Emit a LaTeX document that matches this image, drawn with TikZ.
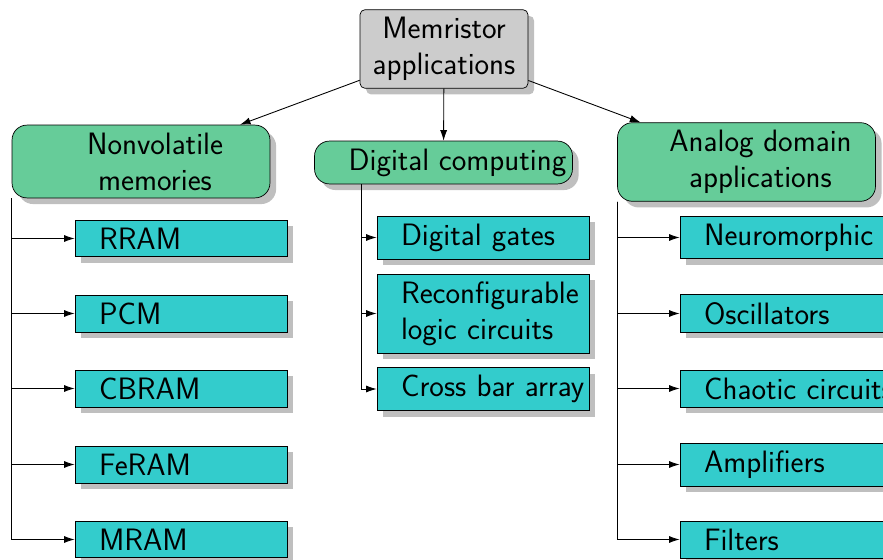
\documentclass[tikz,border=0pt]{standalone}
\usepackage{fontspec}
\usetikzlibrary{shadows,arrows.meta}
\definecolor{rootgray}{RGB}{204,204,204}
\definecolor{appgreen}{RGB}{102,204,153}
\definecolor{appcyan}{RGB}{51,204,204}
\newcommand{\lpad}{\hspace*{0.56cm}}
\begin{document}
\begin{tikzpicture}[x=0.02cm,y=-0.02cm,font=\fontsize{17.6}{20.5}\selectfont\sffamily]
    \tikzstyle{rootbox}=[draw, fill=rootgray, rounded corners=0.1cm, align=center, minimum width=3.36cm, inner ysep=4.3pt, drop shadow={shadow xshift=3.5pt,shadow yshift=-3.5pt}]
    \tikzstyle{areabox}=[draw, fill=appgreen, rounded corners=0.3cm, align=center, minimum width=5.16cm, inner xsep=0pt, inner ysep=4.3pt, drop shadow={shadow xshift=3.5pt,shadow yshift=-3.5pt}]
    \tikzstyle{itembox}=[draw, fill=appcyan, align=left, text width=3.28cm, inner xsep=0.48cm, inner ysep=4.3pt, drop shadow={shadow xshift=3.5pt,shadow yshift=-3.5pt}]
    \tikzstyle{arr}=[-{Latex[length=6pt,width=4pt]}, line width=0.5pt]
    \useasboundingbox (0,0) rectangle (883,560);
    \clip (0,0) rectangle (883,560);
    % top
    \node[rootbox] (root) at (444,49) {Memristor\\applications};
    \node[areabox] (nvm) at (141,161.5) {\lpad Nonvolatile\\\lpad memories};
    \node[areabox] (dig) at (443.5,162.5) {\lpad Digital computing};
    \node[areabox] (ana) at (746.5,162) {\lpad Analog domain\\\lpad applications};
    \draw[arr] (root) -- (nvm);
    \draw[arr] (root) -- (dig);
    \draw[arr] (root) -- (ana);
    % memories
    \node[itembox] (rram) at (181,238.5) {\mbox{RRAM}};
    \node[itembox] (pcm) at (181,313.5) {\mbox{PCM}};
    \node[itembox] (cbram) at (181,388.5) {\mbox{CBRAM}};
    \node[itembox] (feram) at (181,464.5) {\mbox{FeRAM}};
    \node[itembox] (mram) at (181,539.5) {\mbox{MRAM}};
    \foreach \k in {rram,pcm,cbram,feram,mram}
      \draw[arr] (nvm.south west) |- (\k.west);
    % digital
    \node[itembox] (gates) at (483,237.5) {\mbox{Digital gates}};
    \node[itembox] (reconf) at (483,313.5) {\mbox{Reconfigurable}\\\mbox{logic circuits}};
    \node[itembox] (xbar) at (483,389) {\mbox{Cross bar array}};
    \coordinate (digb) at ([xshift=0.94cm]dig.south west);
    \foreach \k in {gates,reconf,xbar}
      \draw[arr] (digb) |- (\k.west);
    % analog
    \node[itembox] (neuro) at (786,237.5) {\mbox{Neuromorphic}};
    \node[itembox] (osc) at (786,313.5) {\mbox{Oscillators}};
    \node[itembox] (chaos) at (786,388.5) {\mbox{Chaotic circuits}};
    \node[itembox] (amp) at (786,464.5) {\mbox{Amplifiers}};
    \node[itembox] (filt) at (786,539.5) {\mbox{Filters}};
    \foreach \k in {neuro,osc,chaos,amp,filt}
      \draw[arr] (ana.south west) |- (\k.west);
\end{tikzpicture}
\end{document}
